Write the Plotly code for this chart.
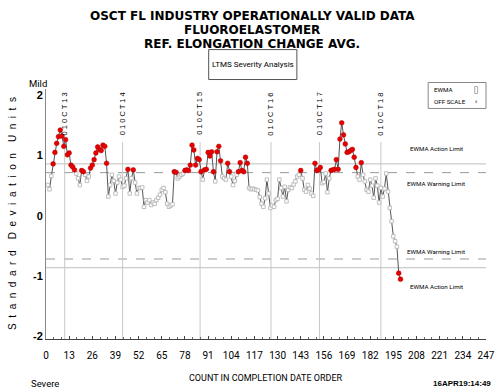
import plotly.graph_objects as go

# Standardized EWMA of reference elongation change, in completion-date order
ewma = [
    0.51, 0.44, 0.66, 0.86, 1.05, 1.20, 1.31, 1.42, 1.32, 1.15,
    1.26, 1.01, 1.04, 0.84, 0.81, 0.76, 0.70, 0.62, 0.51, 0.75,
    0.73, 0.68, 0.58, 0.65, 0.79, 0.84, 0.93, 1.04, 1.14, 1.10,
    1.08, 1.17, 1.15, 0.87, 0.32, 0.51, 0.68, 0.58, 0.37, 0.55,
    0.65, 0.60, 0.48, 0.50, 0.62, 0.77, 0.37, 0.62, 0.76, 0.55,
    0.37, 0.46, 0.46, 0.47, 0.15, 0.26, 0.22, 0.26, 0.18, 0.22,
    0.20, 0.26, 0.30, 0.35, 0.43, 0.46, 0.39, 0.20, 0.15, 0.17,
    0.19, 0.73, 0.72, 0.62, 0.65, 0.68, 0.70, 0.75, 0.76, 0.75,
    0.84, 1.17, 1.09, 0.84, 0.95, 0.93, 0.73, 0.60, 0.76, 0.77,
    1.05, 0.99, 1.06, 0.73, 0.57, 1.06, 1.15, 0.91, 0.65, 0.62,
    0.60, 0.87, 0.73, 0.65, 0.51, 0.58, 0.68, 0.73, 0.88, 0.75,
    0.73, 0.97, 0.87, 0.46, 0.44, 0.45, 0.44, 0.43, 0.42, 0.31,
    0.20, 0.15, 0.29, 0.60, 0.37, 0.13, 0.17, 0.15, 0.26, 0.28,
    0.60, 0.46, 0.32, 0.48, 0.24, 0.43, 0.47, 0.46, 0.52, 0.57,
    0.65, 0.68, 0.75, 0.62, 0.43, 0.40, 0.51, 0.45, 0.37, 0.33,
    0.87, 0.75, 0.76, 0.80, 0.54, 0.56, 0.70, 0.39, 0.62, 0.75,
    0.76, 0.77, 0.93, 0.77, 1.27, 1.54, 1.34, 1.19, 1.05, 1.06,
    1.08, 1.10, 0.97, 0.80, 0.65, 0.60, 0.88, 0.68, 0.57, 0.43,
    0.40, 0.60, 0.50, 0.30, 0.62, 0.50, 0.22, 0.46, 0.32, 0.45,
    0.70, 0.40, 0.13, -0.09, -0.34, -0.42, -0.51, -0.95, -1.05,
]
count = list(range(1, len(ewma) + 1))

# Control limits (standard deviation units)
action_limit = 0.86
warning_limit = 0.715

# Calendar reference marks along the count axis
date_marks = [10.5, 43, 86.5, 126.3, 153.5, 188]
date_labels = ["0 1 0 C T 1 3", "0 1 0 C T 1 4", "0 1 0 C T 1 5",
               "0 1 0 C T 1 6", "0 1 0 C T 1 7", "0 1 0 C T 1 8"]

x_ticks = list(range(0, 248, 13))
y_ticks = [-2, -1, 0, 1, 2]
y_tick_text = ["-2", "-1", "0", "1", "2"]

W, H = 504, 391
L, R, T, B = 46, 9, 88.5, 52
PW, PH = W - L - R, H - T - B

def px(x):
    return (x - L) / PW

def py(y):
    return (H - B - y) / PH

NARROW = "Roboto, Liberation Sans, sans-serif"
SANS = "Liberation Sans, Arial, sans-serif"
WIDE = "DejaVu Sans, Verdana, sans-serif"

inside = [abs(v) <= warning_limit for v in ewma]
flag = [abs(v) > warning_limit for v in ewma]

fig = go.Figure()

# limit lines
for lim, dash, col in [(action_limit, "solid", "#bdbdbd"), (-action_limit, "solid", "#bdbdbd"),
                       (warning_limit, "dash", "#9a9a9a"), (-warning_limit, "dash", "#9a9a9a")]:
    fig.add_shape(type="line", xref="paper", x0=0, x1=1, yref="y", y0=lim, y1=lim,
                  line=dict(color=col, width=1, dash=dash), layer="below")

# date reference lines
for xm in date_marks:
    fig.add_shape(type="line", xref="x", x0=xm, x1=xm, yref="y", y0=-2.04, y1=1.22,
                  line=dict(color="#c8c8c8", width=1), layer="below")

fig.add_trace(go.Scatter(
    x=count, y=ewma, mode="lines",
    line=dict(color="#555555", width=1), hoverinfo="skip", showlegend=False))

fig.add_trace(go.Scatter(
    x=[c for c, k in zip(count, inside) if k], y=[v for v, k in zip(ewma, inside) if k],
    mode="markers",
    marker=dict(symbol="square", size=3.5, color="white", line=dict(color="#b8b8b8", width=0.9)),
    showlegend=False))

fig.add_trace(go.Scatter(
    x=[c for c, k in zip(count, flag) if k], y=[v for v, k in zip(ewma, flag) if k],
    mode="markers",
    marker=dict(symbol="circle", size=4.8, color="#e60000", line=dict(color="#b00000", width=0.5)),
    showlegend=False))

ann = []
titles = ["OSCT FL INDUSTRY OPERATIONALLY VALID DATA", "FLUOROELASTOMER",
          "REF. ELONGATION CHANGE AVG."]
for i, t in enumerate(titles):
    ann.append(dict(text="<b>" + t + "</b>", x=px(256.5), y=py(15 + 14 * i),
                    font=dict(family=WIDE, size=12, color="black")))

ann.append(dict(text="LTMS Severity Analysis", x=px(257), y=py(64),
                font=dict(family=NARROW, size=8, color="black")))
ann.append(dict(text="Mild", x=px(38), y=py(83), font=dict(family=NARROW, size=9.5, color="black")))
ann.append(dict(text="Severe", x=px(45), y=py(384), font=dict(family=NARROW, size=9.5, color="black")))
ann.append(dict(text="<b>16APR19:14:49</b>", x=px(470), y=py(384),
                font=dict(family=SANS, size=8, color="black")))
ann.append(dict(text="COUNT IN COMPLETION DATE ORDER", x=px(270), y=py(378),
                font=dict(family=NARROW, size=9, color="black")))
ann.append(dict(text="S\u00a0 t\u00a0 a\u00a0 n\u00a0 d\u00a0 a\u00a0 r\u00a0 d\u00a0\u00a0\u00a0 "
                     "D\u00a0 e\u00a0 v\u00a0 i\u00a0 a\u00a0 t\u00a0 i\u00a0 o\u00a0 n\u00a0\u00a0\u00a0 "
                     "U\u00a0 n\u00a0 i\u00a0 t\u00a0 s",
                x=px(12), y=py(213), textangle=-90,
                font=dict(family=SANS, size=10, color="black")))

for lab, ypix in [("EWMA Action Limit", 149), ("EWMA Warning Limit", 184),
                  ("EWMA Warning Limit", 252), ("EWMA Action Limit", 287)]:
    ann.append(dict(text=lab, x=px(444), y=py(ypix),
                    font=dict(family=NARROW, size=6.2, color="black")))

for xm, lab in zip(date_marks, date_labels):
    ann.append(dict(text=lab, xref="x", yref="y", x=xm, y=1.69, textangle=-90,
                    font=dict(family=SANS, size=7.5, color="black")))

ann.append(dict(text="EWMA", x=px(440), y=py(90), xanchor="left",
                font=dict(family=NARROW, size=6.2, color="black")))
ann.append(dict(text="OFF SCALE", x=px(440), y=py(102), xanchor="left",
                font=dict(family=NARROW, size=6.2, color="black")))

for a in ann:
    a.setdefault("xref", "paper")
    a.setdefault("yref", "paper")
    a.setdefault("xanchor", "center")
    a.update(showarrow=False, yanchor="middle")

shapes_extra = [
    dict(type="rect", xref="paper", yref="paper", x0=px(212), x1=px(302), y0=py(79), y1=py(49),
         line=dict(color="#555555", width=1)),
    dict(type="rect", xref="paper", yref="paper", x0=px(436), x1=px(495), y0=py(108), y1=py(82),
         line=dict(color="#888888", width=1)),
    dict(type="rect", xref="paper", yref="paper", x0=px(483.5), x1=px(486.5), y0=py(93), y1=py(86),
         line=dict(color="#aaaaaa", width=1)),
    dict(type="circle", xref="paper", yref="paper", x0=px(484.3), x1=px(485.7), y0=py(102.5), y1=py(100),
         line=dict(color="#999999", width=0.5), fillcolor="#999999"),
]
for s in shapes_extra:
    fig.add_shape(**s)

fig.update_layout(
    width=W, height=H,
    margin=dict(l=L, r=R, t=T, b=B),
    paper_bgcolor="white", plot_bgcolor="white",
    annotations=ann,
    xaxis=dict(range=[0, 247], tickvals=x_ticks, ticktext=[str(v) for v in x_ticks],
               showgrid=False, zeroline=False, showline=True, linecolor="#444444", linewidth=1,
               ticks="inside", ticklen=3, tickcolor="#444444", ticklabelstandoff=7,
               ticklabeloverflow="allow",
               minor=dict(dtick=13 / 3, tick0=0, ticks="inside", ticklen=2, tickcolor="#666666"),
               tickfont=dict(family=NARROW, size=10, color="black")),
    yaxis=dict(range=[-2.04, 2.1], tickvals=y_ticks,
               ticktext=["<b>" + t + "</b>" for t in y_tick_text],
               showgrid=False, zeroline=False, showline=True, linecolor="#888888", linewidth=1,
               ticks="", tickfont=dict(family=SANS, size=11, color="black")),
    showlegend=False,
)

fig.write_html("out.html")
